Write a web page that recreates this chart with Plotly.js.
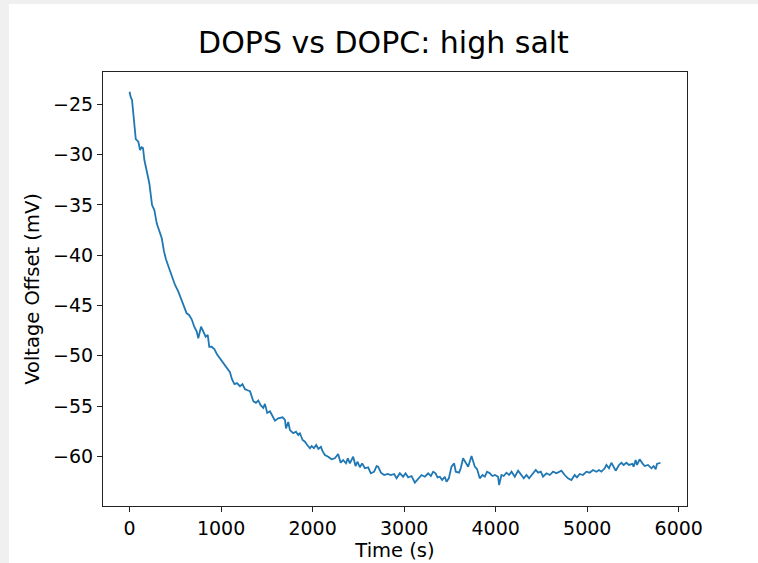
<!DOCTYPE html>
<html>
<head>
<meta charset="utf-8">
<script src="https://cdn.plot.ly/plotly-3.0.1.min.js"></script>
<style>
  html, body { margin: 0; padding: 0; background: #f0f0f0; width: 758px; height: 563px; overflow: hidden; }
  #chart { position: absolute; left: 9px; top: 4px; width: 749px; height: 559px; background: #ffffff; }
</style>
</head>
<body>
<div id="chart"></div>
<script>
// Time (s)
const timeS = [
  0, 4, 13, 27, 35, 41, 49, 68, 96, 115, 133, 147, 162, 188, 216, 246, 271, 297, 325, 352,
  377, 398, 431, 464, 497, 533, 562, 587, 606, 624, 650, 679, 707, 734, 751, 781, 806, 832, 854, 871,
  897, 926, 955, 988, 1015, 1043, 1070, 1097, 1119, 1146, 1174, 1206, 1234, 1261, 1288, 1316, 1352, 1381, 1406, 1432,
  1461, 1479, 1504, 1534, 1563, 1588, 1624, 1672, 1698, 1709, 1734, 1752, 1788, 1818, 1843, 1861, 1891, 1916, 1941, 1971,
  1989, 2014, 2039, 2063, 2091, 2107, 2134, 2170, 2207, 2243, 2279, 2306, 2334, 2364, 2385, 2407, 2443, 2469, 2491, 2516,
  2541, 2571, 2607, 2636, 2672, 2699, 2716, 2746, 2782, 2819, 2855, 2891, 2917, 2953, 2989, 3015, 3044, 3081, 3117, 3153,
  3190, 3226, 3262, 3292, 3317, 3343, 3365, 3390, 3415, 3444, 3463, 3488, 3517, 3546, 3564, 3600, 3619, 3644, 3681, 3699,
  3736, 3772, 3797, 3826, 3856, 3881, 3906, 3936, 3965, 3993, 4026, 4037, 4063, 4088, 4118, 4146, 4173, 4209, 4245, 4282,
  4307, 4336, 4365, 4402, 4438, 4463, 4493, 4517, 4555, 4591, 4627, 4664, 4700, 4718, 4754, 4790, 4827, 4863, 4888, 4918,
  4954, 4991, 5027, 5063, 5100, 5128, 5155, 5191, 5210, 5238, 5264, 5289, 5311, 5347, 5373, 5398, 5428, 5456, 5493, 5507,
  5529, 5544, 5573, 5603, 5628, 5664, 5701, 5726, 5748, 5762, 5800
];
// Voltage offset (mV)
const voltageMV = [
  -23.75, -24.08, -24.30, -24.57, -25.37, -26.36, -27.23, -28.45, -28.72, -29.54, -29.27, -29.34, -30.54, -31.53, -32.85, -35.01, -35.51, -36.83, -37.66, -38.32,
  -39.65, -40.41, -41.27, -42.17, -42.96, -43.63, -44.28, -44.78, -45.28, -45.78, -45.94, -46.37, -47.11, -47.60, -48.26, -47.11, -47.60, -48.10, -47.93, -49.10,
  -49.10, -49.32, -49.84, -50.24, -50.62, -50.92, -51.33, -51.63, -52.32, -52.82, -52.72, -53.02, -52.82, -53.32, -53.42, -53.52, -54.51, -54.68, -54.44, -54.91,
  -55.18, -54.78, -55.68, -55.51, -56.01, -56.45, -56.21, -56.11, -56.38, -57.21, -56.58, -57.38, -57.70, -57.55, -57.87, -57.70, -58.37, -58.54, -58.87, -59.19,
  -58.97, -59.19, -58.87, -59.26, -59.04, -59.46, -59.86, -60.03, -60.29, -60.19, -59.76, -60.63, -60.36, -60.69, -60.19, -60.69, -60.03, -60.96, -60.53, -61.08,
  -60.69, -61.18, -61.08, -61.68, -61.52, -60.96, -61.02, -61.62, -61.85, -61.75, -61.85, -61.75, -62.18, -61.68, -62.02, -61.68, -62.08, -61.95, -62.61, -62.18,
  -61.85, -62.02, -61.68, -61.95, -61.52, -61.68, -62.08, -62.02, -62.35, -62.02, -62.52, -62.18, -61.02, -60.69, -61.52, -61.62, -61.15, -60.19, -60.69, -61.02,
  -59.96, -61.02, -61.28, -62.18, -61.85, -62.02, -61.52, -61.68, -61.95, -61.85, -62.02, -62.84, -61.85, -61.95, -61.62, -61.85, -61.52, -62.02, -61.42, -61.95,
  -62.18, -61.85, -62.18, -61.75, -61.35, -61.62, -61.52, -62.02, -61.68, -61.85, -61.52, -61.68, -61.52, -61.42, -61.85, -62.18, -62.35, -61.85, -62.08, -61.75,
  -61.85, -61.52, -61.62, -61.35, -61.52, -61.35, -61.52, -61.18, -60.85, -61.18, -60.63, -61.02, -61.42, -60.85, -60.63, -60.85, -60.63, -60.85, -60.75, -61.02,
  -60.36, -60.85, -60.29, -60.69, -60.96, -60.85, -61.18, -60.96, -61.28, -60.75, -60.63
];
const xTickVals = [0, 1000, 2000, 3000, 4000, 5000, 6000];
const xTickText = ["0", "1000", "2000", "3000", "4000", "5000", "6000"];
const yTickVals = [-25, -30, -35, -40, -45, -50, -55, -60];
const yTickText = ["\u221225", "\u221230", "\u221235", "\u221240", "\u221245", "\u221250", "\u221255", "\u221260"];

const tickFont = { family: "DejaVu Sans", size: 19, color: "#000000" };

const trace = {
  x: timeS, y: voltageMV, type: "scatter", mode: "lines",
  line: { color: "#1f77b4", width: 1.8 }, hoverinfo: "skip"
};

const layout = {
  width: 749, height: 559,
  paper_bgcolor: "#ffffff", plot_bgcolor: "#ffffff",
  margin: { l: 94, r: 71, t: 68, b: 57, pad: 0 },
  showlegend: false,
  title: {
    text: "DOPS vs DOPC: high salt",
    font: { family: "DejaVu Sans", size: 30, color: "#000000" },
    xref: "container", x: 0.5, xanchor: "center",
    yref: "container", y: 1 - (38 / 559), yanchor: "middle"
  },
  xaxis: {
    range: [-290, 6090], tickmode: "array", tickvals: xTickVals, ticktext: xTickText,
    showgrid: false, zeroline: false,
    showline: true, mirror: true, linecolor: "#222222", linewidth: 1,
    ticks: "outside", ticklen: 5, tickwidth: 1, tickcolor: "#222222",
    tickfont: tickFont,
    title: { text: "Time (s)", font: { family: "DejaVu Sans", size: 19.5, color: "#000000" }, standoff: 4 }
  },
  yaxis: {
    range: [-64.93, -21.79], tickmode: "array", tickvals: yTickVals, ticktext: yTickText,
    showgrid: false, zeroline: false,
    showline: true, mirror: true, linecolor: "#222222", linewidth: 1,
    ticks: "outside", ticklen: 5, tickwidth: 1, tickcolor: "#222222",
    tickfont: tickFont,
    title: { text: "Voltage Offset (mV)", font: { family: "DejaVu Sans", size: 19.5, color: "#000000" }, standoff: 8 }
  }
};

Plotly.newPlot("chart", [trace], layout, { staticPlot: true, displayModeBar: false });
</script>
</body>
</html>
